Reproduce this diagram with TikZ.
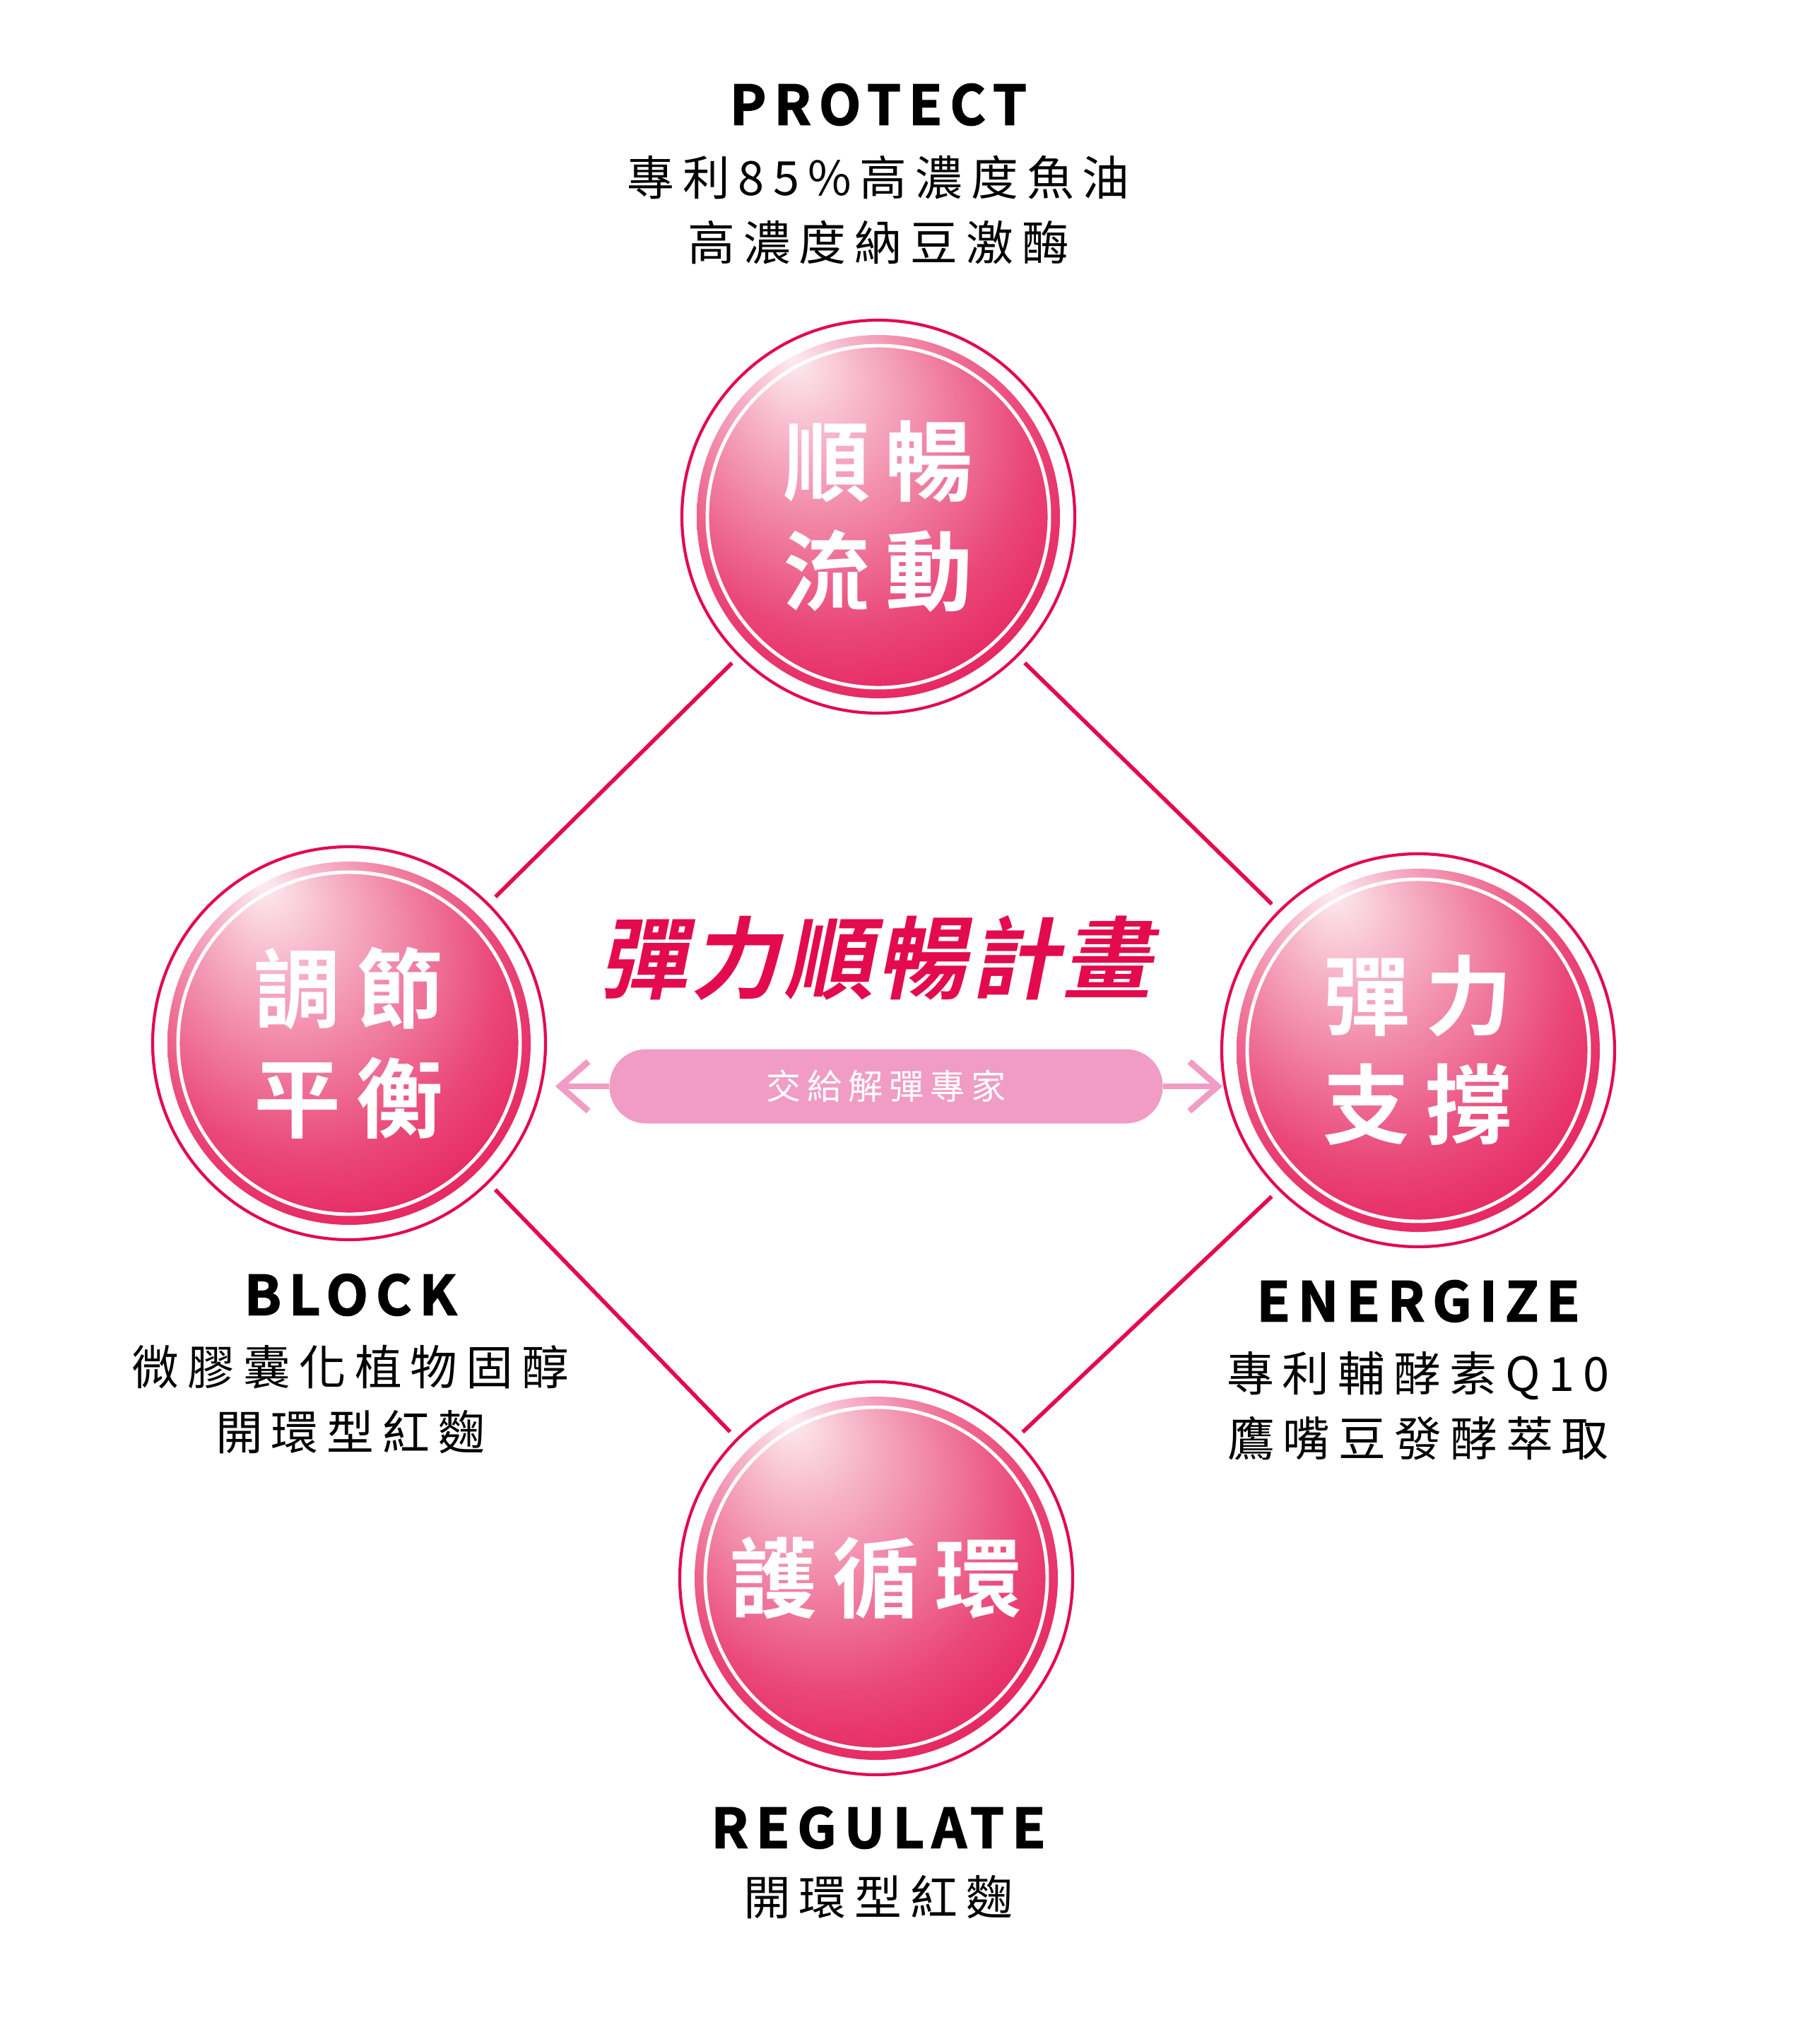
\documentclass[tikz,border=0pt]{standalone}
\usepackage{fontspec}
\usetikzlibrary{arrows.meta,positioning}
\newfontfamily\cjk[BoldFont={* Bold},LetterSpace=18]{Noto Sans CJK TC}
\newfontfamily\cjkhead[BoldFont={* Bold},LetterSpace=4]{Noto Sans CJK TC}
\newfontfamily\engb[LetterSpace=14,FakeBold=2]{Noto Sans CJK TC Bold}
\definecolor{crim}{HTML}{E30B4D}
\definecolor{crimd}{HTML}{D40A45}
\definecolor{pill}{HTML}{F09CC4}
\pgfdeclareradialshading{glow}{\pgfpoint{-12bp}{22bp}}{%
  color(0bp)=(white!92!crim); color(8bp)=(white!70!crim); color(26bp)=(crim!75!white);
  color(40bp)=(crim); color(50bp)=(crimd)}
\tikzset{
  orb/.style={circle,minimum size=5.56cm,inner sep=0pt},
  head/.style={font=\engb\fontsize{22}{26}\selectfont},
  item/.style={font=\cjk\fontsize{19}{26}\selectfont},
  orbtext/.style={text=white,font=\cjk\bfseries\fontsize{35}{44}\selectfont,align=center},
  link/.style={crim,line width=1.6pt,shorten <=4pt,shorten >=4pt},
}
\newcommand{\orb}[3]{%
  \node[orb] (#1) at (#2) {};
  \draw[crim,line width=1.2pt] (#1) circle (2.78cm);
  \shade[shading=glow] (#1) circle (2.57cm);
  \draw[white,line width=1.4pt] (#1) circle (2.42cm);
  \node[orbtext] at (#1) {#3};
}
\begin{document}
\begin{tikzpicture}
\useasboundingbox (0,0) rectangle (25.53,-28.92);
% circles
\orb{protect}{12.43,-7.31}{順暢\\流動}
\orb{block}{4.94,-14.76}{調節\\平衡}
\orb{energize}{20.07,-14.86}{彈力\\支撐}
\orb{regulate}{12.40,-22.33}{護循環}
% links
\draw[link] (protect.225) -- (block.45);
\draw[link] (protect.315) -- (energize.135);
\draw[link] (block.315) -- (regulate.135);
\draw[link] (energize.225) -- (regulate.45);
% labels
\node[head] (hp) at (12.43,-1.48) {PROTECT};
\node[item,align=center] (tp) at (12.43,-2.97) {專利85\%高濃度魚油\\高濃度納豆激酶};
\node[head] (hb) at (4.96,-18.32) {BLOCK};
\node[item,align=center] (tb) at (4.96,-19.80) {微膠囊化植物固醇\\開環型紅麴};
\node[head] (he) at (20.07,-18.41) {ENERGIZE};
\node[item,align=center] (te) at (20.07,-19.89) {專利輔酵素Q10\\鷹嘴豆發酵萃取};
\node[head] (hr) at (12.43,-25.86) {REGULATE};
\node[item] (tr) at (12.43,-26.84) {開環型紅麴};
% center
\node[text=crim,font=\cjkhead\bfseries\fontsize{36}{40}\selectfont,xslant=0.2] (title) at (12.48,-13.55) {彈力順暢計畫};
\node[fill=pill,rounded corners=0.52cm,minimum width=7.83cm,minimum height=1.05cm,
  text=white,font=\cjk\fontsize{14}{16}\selectfont] (pillbox) at (12.54,-15.37) {交給解彈專家};
\coordinate (la) at (7.86,-15.37);
\coordinate (ra) at (17.3,-15.37);
\draw[pill,line width=2.5pt,-{Straight Barb[length=4mm,width=7mm]}] (pillbox.west) -- (la);
\draw[pill,line width=2.5pt,-{Straight Barb[length=4mm,width=7mm]}] (pillbox.east) -- (ra);
\end{tikzpicture}
\end{document}
